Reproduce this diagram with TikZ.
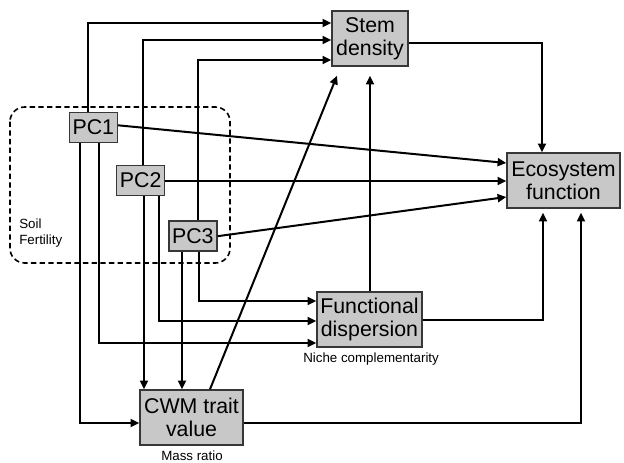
\documentclass[tikz,border=0pt]{standalone}
\usepackage{fontspec}
\setmainfont{Liberation Sans}
\usetikzlibrary{arrows.meta,calc}
\definecolor{boxfill}{RGB}{200,200,200}
\definecolor{boxline}{RGB}{55,55,55}
\begin{document}
\begin{tikzpicture}[x=0.75pt,y=-0.75pt,
  box/.style={draw=boxline,fill=boxfill,line width=1.1pt,inner sep=0pt,
    align=center,font=\fontsize{16}{17.5}\selectfont,minimum height=41.25pt},
  pcbox/.style={box,minimum width=36pt,minimum height=22.5pt},
  arr/.style={line width=1.5pt,-{Triangle[length=6.5pt,width=6pt]}},
  small/.style={font=\fontsize{10}{12}\selectfont,inner sep=0pt}]
\useasboundingbox (0,0) rectangle (624,463);
% soil fertility group
\draw[line width=1.2pt,dash pattern=on 4pt off 2.5pt,rounded corners=11pt]
  (10,107) rectangle (230,263);
\node[small,anchor=west,align=left] (soil) at (19,233.5) {Soil\\Fertility};
% nodes
\node[box,minimum width=57pt] (stem) at (370,38.5) {Stem\\density};
\node[box,minimum width=84.75pt] (eco) at (563.5,180.5) {Ecosystem\\function};
\node[box,minimum width=78.75pt] (fd) at (369.5,319.5) {Functional\\dispersion};
\node[box,minimum width=77.25pt] (cwm) at (191.5,417.5) {CWM trait\\value};
\node[pcbox] (pc1) at (93.3,127.3) {PC1};
\node[pcbox] (pc2) at (140.7,180.4) {PC2};
\node[pcbox] (pc3) at (192.8,236.2) {PC3};
\node[small,anchor=west] (niche) at (303,359) {Niche complementarity};
\node[small] (mass) at (192,456) {Mass ratio};
% connectors to stem density
\draw[arr] ($(pc1.north)+(-5.3,0)$) |- ($(stem.west)+(0,-15.5)$);
\draw[arr] ($(pc2.north)+(2.3,0)$) |- ($(stem.west)+(0,1.5)$);
\draw[arr] ($(pc3.north)+(5.2,0)$) |- ($(stem.west)+(0,21.5)$);
% connectors to ecosystem function
\draw[arr] ($(pc1.east)+(0,-2)$) -- ($(eco.west)+(0,-17.5)$);
\draw[arr] ($(pc2.east)+(0,0.6)$) -- ($(pc2.east -| eco.west)+(0,0.6)$);
\draw[arr] (pc3.east) -- ($(eco.west)+(0,16.5)$);
% connectors from PCs downwards
\draw[arr] ($(pc1.south)+(-13.3,0)$) |- ($(cwm.west)+(0,5.5)$);
\draw[arr] ($(pc1.south)+(5.7,0)$) |- ($(fd.west)+(0,23.5)$);
\coordinate (p2a) at ($(pc2.south)+(3.3,0)$);
\draw[arr] (p2a) -- (p2a |- cwm.north);
\draw[arr] ($(pc2.south)+(18.3,0)$) |- ($(fd.west)+(0,1.5)$);
\coordinate (p3a) at ($(pc3.south)+(-10.8,0)$);
\draw[arr] (p3a) -- (p3a |- cwm.north);
\draw[arr] ($(pc3.south)+(6.2,0)$) |- ($(fd.west)+(0,-18.5)$);
% to stem density from below
\draw[arr] ($(cwm.north)+(18.5,0)$) -- ($(stem.south)+(-33,9)$);
\draw[arr] ($(fd.north)+(0.5,0)$) -- ($(stem.south)+(0,9)$);
% to ecosystem function
\draw[arr] ($(stem.east)+(0,4.5)$) -| ($(eco.north)+(-21.5,0)$);
\draw[arr] ($(fd.east)+(0,0.5)$) -| ($(eco.south)+(-20.5,4)$);
\draw[arr] ($(cwm.east)+(0,5.5)$) -| ($(eco.south)+(17.5,4)$);
\end{tikzpicture}
\end{document}
